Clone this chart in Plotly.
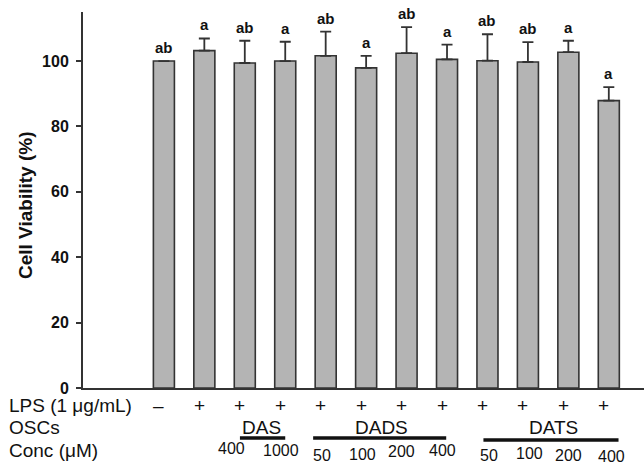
import plotly.graph_objects as go

# ---- data ----
viability = [100.0, 103.2, 99.4, 100.0, 101.6, 97.9, 102.4, 100.5, 100.1, 99.7, 102.7, 87.9]
err_plus = [0.0, 3.7, 6.8, 5.9, 7.4, 3.7, 8.0, 4.5, 8.1, 6.1, 3.5, 4.1]
sig_letters = ["ab", "a", "ab", "a", "ab", "a", "ab", "a", "ab", "ab", "a", "a"]
lps = ["\u2013", "+", "+", "+", "+", "+", "+", "+", "+", "+", "+", "+"]
conc = ["", "", "400", "1000", "50", "100", "200", "400", "50", "100", "200", "400"]
groups = [("DAS", 2, 3), ("DADS", 4, 7), ("DATS", 8, 11)]
y_ticks = [0, 20, 40, 60, 80, 100]
row_labels = ["LPS (1 \u03bcg/mL)", "OSCs", "Conc (\u03bcM)"]

x = list(range(len(viability)))
FONT = "Liberation Sans, Arial, sans-serif"
DARK = "#333333"

fig = go.Figure()
fig.add_trace(go.Bar(
    x=x, y=viability, width=0.52,
    marker=dict(color="#b4b4b4", line=dict(color=DARK, width=1.6)),
    error_y=dict(type="data", array=err_plus, arrayminus=[0] * len(err_plus),
                 symmetric=False, color=DARK, thickness=1.8, width=5.5),
    showlegend=False,
))

ann = []
# significance letters
for i, (v, e, s) in enumerate(zip(viability, err_plus, sig_letters)):
    ann.append(dict(x=i, y=v + e, xref="x", yref="y", text=s, showarrow=False,
                    yanchor="bottom", yshift=3,
                    font=dict(family=FONT, size=15, color="#111111", weight="bold")))

# LPS row
for i, s in enumerate(lps):
    ann.append(dict(x=i, y=0, xref="x", yref="paper", text=s, showarrow=False,
                    yanchor="middle", xshift=-5, yshift=-17,
                    font=dict(family=FONT, size=19, color="#111111")))

# conc row (slightly staggered as in the original figure)
conc_dx = [0, 0, -13, -4, -4, -4, -5, -5, 2, 2, 0, 3]
conc_dy = [0, 0, -60, -62, -67, -66, -63, -62, -67, -65, -67, -68]
for i, s in enumerate(conc):
    if s:
        ann.append(dict(x=i, y=0, xref="x", yref="paper", text=s, showarrow=False,
                        yanchor="middle", xshift=conc_dx[i], yshift=conc_dy[i],
                        font=dict(family=FONT, size=16, color="#111111")))

# group labels and lines
grp_dx = [-4, -5, 5]
line_l = [-0.12, -0.31, -0.1]
line_r = [0.0, -0.02, 0.24]
shapes = []
for k, (name, a, b) in enumerate(groups):
    ann.append(dict(x=(a + b) / 2, y=0, xref="x", yref="paper", text=name, showarrow=False,
                    yanchor="middle", xshift=grp_dx[k], yshift=-39,
                    font=dict(family=FONT, size=19, color="#111111")))
    yl = -(438 - 388) / 376 if k < 2 else -(440 - 388) / 376
    shapes.append(dict(type="line", xref="x", yref="paper", x0=a + line_l[k], x1=b + line_r[k],
                       y0=yl, y1=yl, line=dict(color="#111111", width=3.5)))

# row labels
for r, (lab, ypx) in enumerate(zip(row_labels, [405, 427, 450])):
    ann.append(dict(x=0, y=0, xref="paper", yref="paper", text=lab, showarrow=False,
                    xanchor="left", yanchor="middle", xshift=-76, yshift=-(ypx - 388),
                    font=dict(family=FONT, size=19, color="#111111")))

# y title
ann.append(dict(x=0, y=(388 - 206) / 376, xref="paper", yref="paper",
                text="Cell Viability (%)", textangle=-90, showarrow=False,
                xanchor="center", yanchor="middle", xshift=-58,
                font=dict(family=FONT, size=19, color="#111111", weight="bold")))

fig.update_layout(
    width=644, height=464,
    margin=dict(l=83, r=0, t=12, b=76),
    paper_bgcolor="white", plot_bgcolor="white",
    annotations=ann, shapes=shapes,
    xaxis=dict(range=[-2.0, 11.87], showticklabels=False, ticks="", showgrid=False,
               zeroline=False, showline=True, linecolor=DARK, linewidth=2),
    yaxis=dict(range=[0, 115], tickvals=y_ticks, ticks="outside", ticklen=5, tickwidth=1.6,
               tickcolor=DARK, showgrid=False, zeroline=False, showline=True,
               linecolor=DARK, linewidth=2, ticklabelstandoff=4,
               tickfont=dict(family=FONT, size=16, color="#111111", weight="bold")),
)

fig.write_html("out.html")
